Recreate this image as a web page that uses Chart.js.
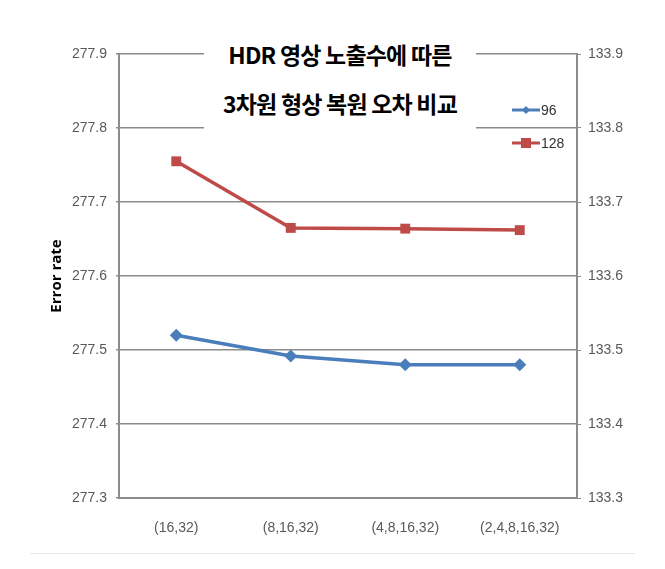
<!DOCTYPE html>
<html>
<head>
<meta charset="utf-8">
<script src="https://cdn.jsdelivr.net/npm/chart.js@4/dist/chart.umd.min.js"></script>
<style>
  html, body { margin: 0; padding: 0; background: #fff; }
  #wrap { position: relative; width: 665px; height: 569px; }
  #title {
    position: absolute; left: 204px; top: 30px; width: 272px; height: 100px;
    background: #fff; text-align: center;
    font-family: "Noto Sans CJK KR", sans-serif; font-weight: bold; font-size: 23px;
    line-height: 49px; color: #000; letter-spacing: -0.8px; white-space: nowrap;
  }
  #bottomline { position: absolute; left: 30px; top: 553px; width: 605px; height: 1px; background: #e6e6e6; }
</style>
</head>
<body>
<div id="wrap">
  <canvas id="c" width="665" height="569"></canvas>
  <div id="title">HDR 영상 노출수에 따른<br>3차원 형상 복원 오차 비교</div>
  <div id="bottomline"></div>
</div>
<script>
const categories = ["(16,32)", "(8,16,32)", "(4,8,16,32)", "(2,4,8,16,32)"];
const series96 = [133.52, 133.492, 133.48, 133.48];
const series128 = [277.755, 277.665, 277.664, 277.662];
const seriesNames = ["96", "128"];
const leftTicks = [277.3, 277.4, 277.5, 277.6, 277.7, 277.8, 277.9];
const rightTicks = [133.3, 133.4, 133.5, 133.6, 133.7, 133.8, 133.9];
const axisTitle = "Error rate";

const BLUE = "#4a7ebb";
const RED = "#be4b48";
const GRID = "#8c8c8c";
const TXT = "#595959";
const TICKFONT = { family: "'Liberation Sans Narrow', 'Liberation Sans', sans-serif", size: 14 };

const legendPlugin = {
  id: "customLegend",
  afterDraw(chart) {
    const ctx = chart.ctx;
    const items = [
      { name: seriesNames[0], color: BLUE, style: "rectRot", y: 110 },
      { name: seriesNames[1], color: RED, style: "rect", y: 143 }
    ];
    ctx.save();
    items.forEach(it => {
      ctx.strokeStyle = it.color;
      ctx.lineWidth = 3;
      ctx.beginPath();
      ctx.moveTo(512, it.y);
      ctx.lineTo(540, it.y);
      ctx.stroke();
      ctx.fillStyle = it.color;
      if (it.style === "rect") {
        ctx.fillRect(521, it.y - 5, 10, 10);
      } else {
        ctx.beginPath();
        ctx.moveTo(526, it.y - 4); ctx.lineTo(530, it.y); ctx.lineTo(526, it.y + 4); ctx.lineTo(522, it.y);
        ctx.closePath(); ctx.fill();
      }
      ctx.fillStyle = "#333";
      ctx.font = "14px 'Liberation Sans Narrow', 'Liberation Sans', sans-serif";
      ctx.textBaseline = "middle";
      ctx.fillText(it.name, 541, it.y + 1);
    });
    ctx.restore();
  }
};

new Chart(document.getElementById("c"), {
  type: "line",
  data: {
    labels: categories,
    datasets: [
      {
        label: seriesNames[0], data: series96, yAxisID: "yR",
        borderColor: BLUE, backgroundColor: BLUE, borderWidth: 3.5,
        pointStyle: "rectRot", pointRadius: 6.5, pointBorderWidth: 0, tension: 0
      },
      {
        label: seriesNames[1], data: series128, yAxisID: "yL",
        borderColor: RED, backgroundColor: RED, borderWidth: 3.5,
        pointStyle: "rect", pointRadius: 7, pointBorderWidth: 0, tension: 0
      }
    ]
  },
  options: {
    responsive: false,
    animation: false,
    layout: { padding: { top: 54, left: 0, right: 0, bottom: 0 } },
    plugins: { legend: { display: false }, title: { display: false }, tooltip: { enabled: false } },
    scales: {
      x: {
        offset: true,
        grid: { display: false, drawTicks: false },
        border: { display: true, color: GRID, width: 2 },
        ticks: { color: TXT, font: TICKFONT, padding: 22, maxRotation: 0 },
        afterFit(s) { s.height = 71; }
      },
      yL: {
        position: "left",
        min: 277.3, max: 277.9,
        afterBuildTicks(s) { s.ticks = leftTicks.map(v => ({ value: v })); },
        grid: { color: GRID, lineWidth: 1.5, drawTicks: true, tickLength: 3 },
        border: { display: true, color: GRID, width: 2 },
        ticks: { color: TXT, font: TICKFONT, padding: 9,
                 callback: v => v.toFixed(1) },
        title: { display: true, text: axisTitle, color: "#000",
                 font: { family: "'Open Sans', sans-serif", size: 15, weight: "bold" }, padding: { top: 48 } },
        afterFit(s) { s.width = 119; }
      },
      yR: {
        position: "right",
        min: 133.3, max: 133.9,
        afterBuildTicks(s) { s.ticks = rightTicks.map(v => ({ value: v })); },
        grid: { display: true, drawOnChartArea: false, color: GRID, tickLength: 4 },
        border: { display: true, color: GRID, width: 2 },
        ticks: { color: TXT, font: TICKFONT, padding: 7,
                 callback: v => v.toFixed(1) },
        afterFit(s) { s.width = 88; }
      }
    }
  },
  plugins: [legendPlugin]
});
</script>
</body>
</html>
